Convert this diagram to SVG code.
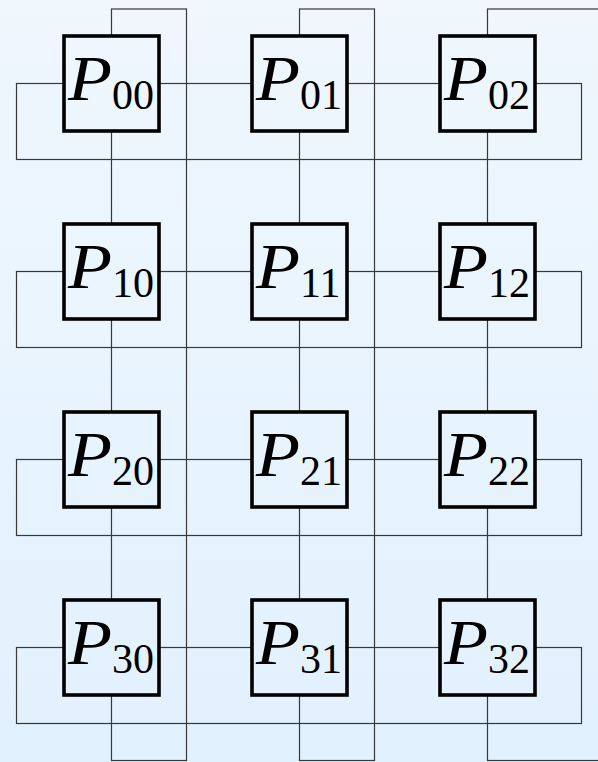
<svg xmlns="http://www.w3.org/2000/svg" width="598" height="762" viewBox="0 0 598 762">
<defs>
<linearGradient id="bg" gradientUnits="userSpaceOnUse" x1="0" y1="0" x2="0" y2="762">
<stop offset="0" stop-color="#f0f7fd"/>
<stop offset="1" stop-color="#e1f1fd"/>
</linearGradient>
</defs>
<style>
.w{fill:none;stroke:#383838;stroke-width:1.2}
.b{fill:url(#bg);stroke:#000;stroke-width:3.6}
.p{font-family:"Liberation Serif",serif;font-style:italic;font-size:63px;fill:#000}
.s{font-family:"Liberation Serif",serif;font-size:42px;fill:#000}
</style>
<rect x="0" y="0" width="598" height="762" fill="url(#bg)"/>
<g id="connectors">
<rect class="w" x="16.5" y="83.5" width="565" height="76"/>
<rect class="w" x="16.5" y="271.5" width="565" height="76"/>
<rect class="w" x="16.5" y="459.5" width="565" height="76"/>
<rect class="w" x="16.5" y="647.5" width="565" height="76"/>
<rect class="w" x="111.5" y="9" width="75" height="751.5"/>
<rect class="w" x="299.5" y="9" width="75" height="751.5"/>
<rect class="w" x="487.5" y="9" width="130" height="751.5"/>
</g>
<g id="P00"><rect class="b" x="64" y="36" width="95" height="95"/><text class="p" x="68" y="100" textLength="44" lengthAdjust="spacingAndGlyphs">P</text><text class="s" x="112" y="109">00</text></g>
<g id="P01"><rect class="b" x="252" y="36" width="95" height="95"/><text class="p" x="256" y="100" textLength="44" lengthAdjust="spacingAndGlyphs">P</text><text class="s" x="300" y="109">01</text></g>
<g id="P02"><rect class="b" x="440" y="36" width="95" height="95"/><text class="p" x="444" y="100" textLength="44" lengthAdjust="spacingAndGlyphs">P</text><text class="s" x="488" y="109">02</text></g>
<g id="P10"><rect class="b" x="64" y="224" width="95" height="95"/><text class="p" x="68" y="288" textLength="44" lengthAdjust="spacingAndGlyphs">P</text><text class="s" x="112" y="297">10</text></g>
<g id="P11"><rect class="b" x="252" y="224" width="95" height="95"/><text class="p" x="256" y="288" textLength="44" lengthAdjust="spacingAndGlyphs">P</text><text class="s" x="300" y="297">11</text></g>
<g id="P12"><rect class="b" x="440" y="224" width="95" height="95"/><text class="p" x="444" y="288" textLength="44" lengthAdjust="spacingAndGlyphs">P</text><text class="s" x="488" y="297">12</text></g>
<g id="P20"><rect class="b" x="64" y="412" width="95" height="95"/><text class="p" x="68" y="476" textLength="44" lengthAdjust="spacingAndGlyphs">P</text><text class="s" x="112" y="485">20</text></g>
<g id="P21"><rect class="b" x="252" y="412" width="95" height="95"/><text class="p" x="256" y="476" textLength="44" lengthAdjust="spacingAndGlyphs">P</text><text class="s" x="300" y="485">21</text></g>
<g id="P22"><rect class="b" x="440" y="412" width="95" height="95"/><text class="p" x="444" y="476" textLength="44" lengthAdjust="spacingAndGlyphs">P</text><text class="s" x="488" y="485">22</text></g>
<g id="P30"><rect class="b" x="64" y="600" width="95" height="95"/><text class="p" x="68" y="664" textLength="44" lengthAdjust="spacingAndGlyphs">P</text><text class="s" x="112" y="673">30</text></g>
<g id="P31"><rect class="b" x="252" y="600" width="95" height="95"/><text class="p" x="256" y="664" textLength="44" lengthAdjust="spacingAndGlyphs">P</text><text class="s" x="300" y="673">31</text></g>
<g id="P32"><rect class="b" x="440" y="600" width="95" height="95"/><text class="p" x="444" y="664" textLength="44" lengthAdjust="spacingAndGlyphs">P</text><text class="s" x="488" y="673">32</text></g>
</svg>
